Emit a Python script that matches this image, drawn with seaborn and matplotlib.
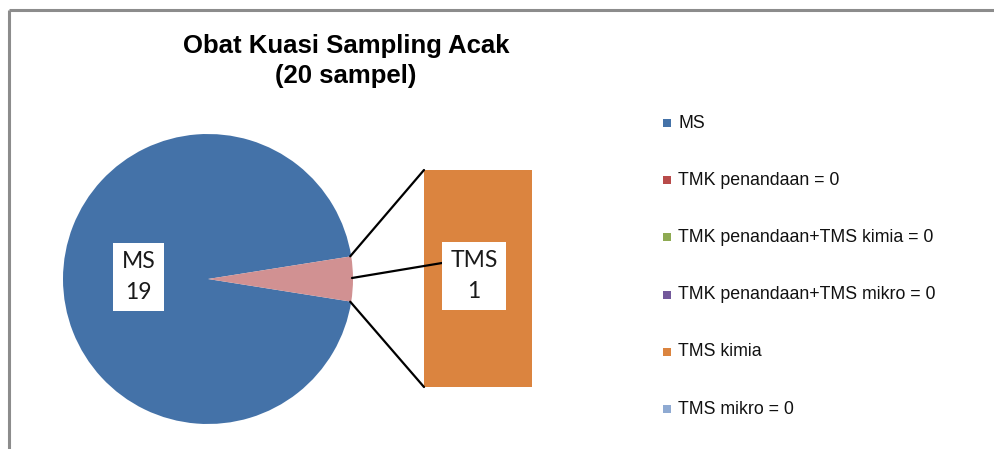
import numpy as np
import pandas as pd
import matplotlib
matplotlib.use("Agg")
import matplotlib.pyplot as plt
from matplotlib import font_manager
from matplotlib.patches import Rectangle
import seaborn as sns

# ---- data ----
title_lines = ["Obat Kuasi Sampling Acak", "(20 sampel)"]
pie_labels = ["MS", "TMS"]
pie_values = [19, 1]
bar_categories = ["TMS kimia"]
bar_values = [1]
legend_labels = ["MS", "TMK penandaan = 0", "TMK penandaan+TMS kimia = 0",
                 "TMK penandaan+TMS mikro = 0", "TMS kimia", "TMS mikro = 0"]
legend_colors = ["#4472A8", "#B84B4A", "#8EAA52", "#73599B", "#DB843F", "#8FAAD2"]
pie_colors = ["#4472A8", "#D19192"]
bar_color = "#DB843F"

sns.set_theme(style="white")
names = {f.name for f in font_manager.fontManager.ttflist}
narrow = "Liberation Sans Narrow" if "Liberation Sans Narrow" in names else "Liberation Sans"
label_font = "Lato" if "Lato" in names else "DejaVu Sans"
plt.rcParams['font.family'] = [narrow, 'DejaVu Sans']

W, H = 995, 449
fig = plt.figure(figsize=(W / 100, H / 100), dpi=100)
fig.patch.set_facecolor("white")

# bar of pie (secondary plot) - drawn below main overlay axes
bx0, bx1, by0, by1 = 424, 532, 170, 387
bax = fig.add_axes([bx0 / W, 1 - by1 / H, (bx1 - bx0) / W, (by1 - by0) / H])
bax.set_zorder(1)
df_bar = pd.DataFrame({"cat": bar_categories, "val": bar_values})
sns.barplot(data=df_bar, x="cat", y="val", color=bar_color, saturation=1,
            width=1.0, ax=bax, linewidth=0)
bax.set_xlim(-0.5, 0.5)
bax.set_ylim(0, sum(bar_values))
bax.axis("off")

# main axes in pixel coordinates
ax = fig.add_axes([0, 0, 1, 1])
ax.set_zorder(2)
ax.patch.set_alpha(0)

# frame (top and left border)
ax.plot([9, W], [10, 10], color="#8C8C8C", lw=2.2, solid_capstyle="butt")
ax.plot([9, 9], [10, H], color="#8C8C8C", lw=2.2, solid_capstyle="butt")

# title
ax.text(346, 61, "\n".join(title_lines), ha="center", va="center",
        fontsize=18.5, fontweight="bold", color="black", linespacing=1.32)

# pie
cx, cy, r = 208, 279, 145
share = pie_values[1] / sum(pie_values) * 360
start = share / 2
wedges, _ = ax.pie(pie_values, colors=pie_colors, center=(cx, cy), radius=r,
                   startangle=start, counterclock=True,
                   wedgeprops=dict(linewidth=0))
ax.set_xlim(0, W)
ax.set_ylim(H, 0)
ax.set_aspect("equal")
ax.axis("off")

# connector lines from wedge edges to bar corners
a = np.deg2rad(share / 2)
ex = cx + r * np.cos(a)
ax.plot([ex - 1, bx0], [cy - r * np.sin(a), by0], color="black", lw=1.6)
ax.plot([ex - 1, bx0], [cy + r * np.sin(a), by1], color="black", lw=1.6)

# leader line for TMS label
ax.plot([cx + r - 1, 442], [cy - 1, 263], color="black", lw=1.6, zorder=4)

# data labels
ax.text(138.5, 277, f"{pie_labels[0]}\n{pie_values[0]}", ha="center", va="center",
        fontsize=16.5, family=label_font, linespacing=1.6, color="#1a1a1a",
        bbox=dict(boxstyle="square,pad=0.36", fc="white", ec="none"), zorder=5)
ax.text(474, 276, f"{pie_labels[1]}\n{bar_values[0]}", ha="center", va="center",
        fontsize=16.5, family=label_font, linespacing=1.6, color="#1a1a1a",
        bbox=dict(boxstyle="square,pad=0.36", fc="white", ec="none"), zorder=5)

# legend (manual rows)
y0, dy = 123, 57.2
for i, (lab, col) in enumerate(zip(legend_labels, legend_colors)):
    y = y0 + i * dy
    ax.add_patch(Rectangle((663, y - 4), 8, 8, facecolor=col, edgecolor="none"))
    ax.text(678, y, lab, ha="left", va="center", fontsize=12.8, color="#111111")

fig.savefig("out.png", dpi=100, facecolor="white")
